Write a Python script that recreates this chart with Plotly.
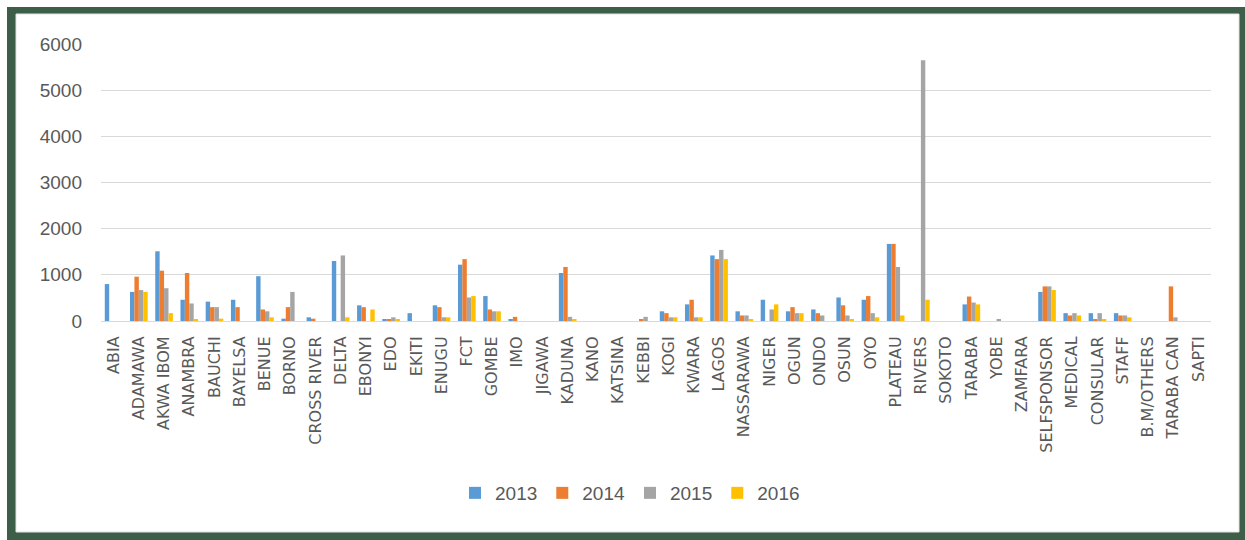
import plotly.graph_objects as go

categories = ["ABIA", "ADAMAWA", "AKWA IBOM", "ANAMBRA", "BAUCHI", "BAYELSA", "BENUE", "BORNO",
              "CROSS RIVER", "DELTA", "EBONYI", "EDO", "EKITI", "ENUGU", "FCT", "GOMBE", "IMO",
              "JIGAWA", "KADUNA", "KANO", "KATSINA", "KEBBI", "KOGI", "KWARA", "LAGOS", "NASSARAWA",
              "NIGER", "OGUN", "ONDO", "OSUN", "OYO", "PLATEAU", "RIVERS", "SOKOTO", "TARABA", "YOBE",
              "ZAMFARA", "SELFSPONSOR", "MEDICAL", "CONSULAR", "STAFF", "B.M/OTHERS", "TARABA CAN", "SAPTI"]

values_2013 = [800, 630, 1510, 460, 420, 460, 970, 50, 80, 1300, 340, 40, 170, 340, 1220, 540, 40,
               0, 1040, 0, 0, 0, 210, 360, 1420, 210, 460, 210, 250, 510, 460, 1670, 0, 0, 360, 0,
               0, 630, 170, 170, 170, 0, 0, 0]
values_2014 = [0, 960, 1090, 1040, 300, 300, 250, 300, 50, 0, 300, 40, 0, 300, 1340, 250, 90,
               0, 1170, 0, 0, 40, 170, 460, 1340, 120, 0, 300, 170, 340, 540, 1670, 0, 0, 530, 0,
               0, 750, 120, 40, 120, 0, 750, 0]
values_2015 = [0, 670, 710, 380, 300, 0, 210, 630, 0, 1420, 0, 80, 0, 80, 510, 210, 0,
               0, 90, 0, 0, 90, 80, 80, 1540, 120, 250, 170, 120, 120, 170, 1170, 5650, 0, 400, 40,
               0, 750, 170, 170, 120, 0, 80, 0]
values_2016 = [0, 630, 170, 40, 50, 0, 80, 0, 0, 80, 250, 40, 0, 80, 540, 210, 0,
               0, 40, 0, 0, 0, 80, 80, 1340, 40, 360, 170, 0, 40, 80, 120, 460, 0, 360, 0,
               0, 670, 120, 40, 80, 0, 0, 0]

series_names = ["2013", "2014", "2015", "2016"]
series_values = [values_2013, values_2014, values_2015, values_2016]
colors = ["#5B9BD5", "#ED7D31", "#A5A5A5", "#FFC000"]
y_ticks = [0, 1000, 2000, 3000, 4000, 5000, 6000]

W, H = 1245, 540
L, R, T, B = 101, 34, 44, 219
PW, PH = W - L - R, H - T - B


def px(x):
    return (x - L) / PW


def py(y):
    return (H - B - y) / PH


fig = go.Figure()
for name, vals, col in zip(series_names, series_values, colors):
    fig.add_trace(go.Bar(x=categories, y=vals, name=name, marker=dict(color=col, line=dict(width=0))))

txt = "#595959"
fig.update_layout(
    width=W, height=H,
    margin=dict(l=L, r=R, t=T, b=B),
    barmode="group", bargap=0.3, bargroupgap=0,
    paper_bgcolor="white", plot_bgcolor="rgba(0,0,0,0)",
    font=dict(family="Liberation Sans, Arial, sans-serif", color=txt),
    legend=dict(orientation="h", x=px(630), y=py(493), xanchor="center", yanchor="middle",
                font=dict(size=19, color=txt), itemwidth=30, bgcolor="rgba(0,0,0,0)"),
    xaxis=dict(tickangle=-90, tickfont=dict(size=16, color=txt, family="DejaVu Sans"), showgrid=False,
               showline=True, linecolor="#d9d9d9", linewidth=1, ticks="", ticklabelstandoff=8,
               range=[-0.5, len(categories) - 0.5]),
    yaxis=dict(range=[0, 6000], tickvals=y_ticks, tickfont=dict(size=19, color=txt),
               showgrid=True, gridcolor="#d9d9d9", gridwidth=1, zeroline=False,
               showline=False, ticks="", ticklabelstandoff=18),
    shapes=[
        dict(type="rect", xref="paper", yref="paper", x0=px(7), x1=px(1260), y0=py(7), y1=py(560),
             fillcolor="#3D5E48", line=dict(width=0), layer="below"),
        dict(type="rect", xref="paper", yref="paper", x0=px(16), x1=px(1239), y0=py(14), y1=py(532),
             fillcolor="white", line=dict(color="#e3e3e3", width=1), layer="below"),
    ],
)

fig.write_html("out.html", config={"displayModeBar": False},
               post_script="document.body.style.margin='0';document.body.style.overflow='hidden';")
